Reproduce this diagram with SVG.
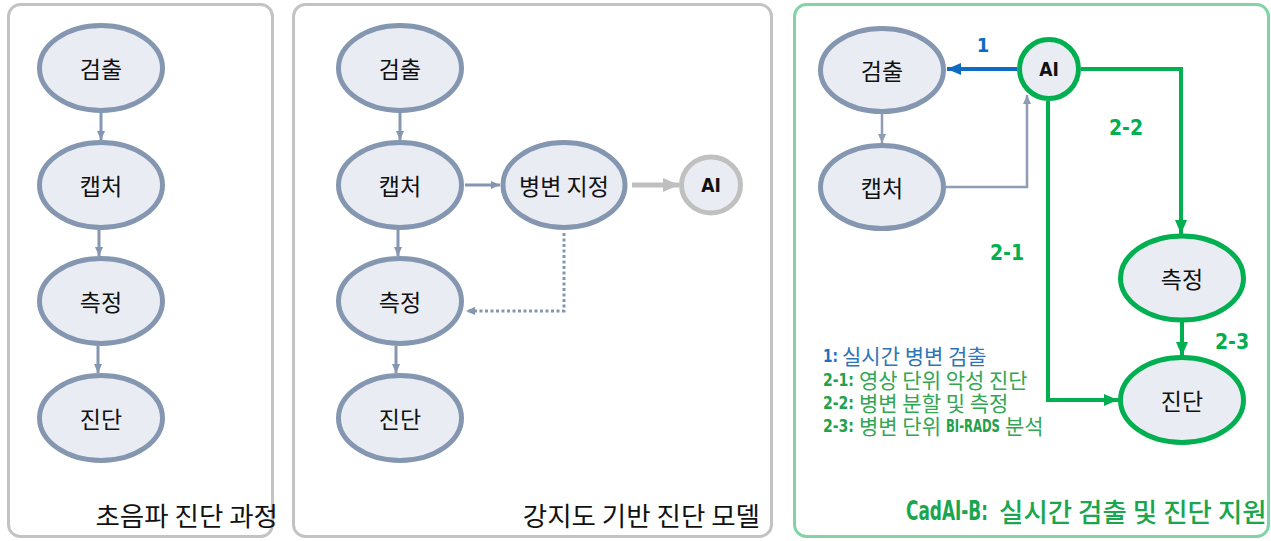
<svg xmlns="http://www.w3.org/2000/svg" width="1271" height="541" viewBox="0 0 1271 541">
<defs>
<style>
.panel{fill:#ffffff;stroke:#c3c3c3;stroke-width:3}
.panel3{fill:#ffffff;stroke:#84d3a5;stroke-width:3}
.el{fill:#e9edf3;stroke:#8496b0;stroke-width:5}
.elg{fill:#e9edf3;stroke:#00b050;stroke-width:5}
.lbl{font-family:"Noto Sans CJK KR","Noto Sans",sans-serif;font-size:23px;fill:#111;text-anchor:middle;dominant-baseline:central}
.cap{font-family:"Noto Sans CJK KR","Noto Sans",sans-serif;font-size:26.5px;fill:#111;text-anchor:end;dominant-baseline:central}
.cond{font-family:"DejaVu Sans Condensed","DejaVu Sans",sans-serif;font-stretch:condensed;font-weight:bold;dominant-baseline:central}
.ko{font-family:"Noto Sans CJK KR","Noto Sans",sans-serif;dominant-baseline:central}
.cs{fill:none;stroke:#8496b0;stroke-width:3}
</style>
<marker id="mS" viewBox="0 0 10 10" refX="10" refY="5" markerWidth="9" markerHeight="9" markerUnits="userSpaceOnUse" orient="auto"><path d="M0,0.5 L10,5 L0,9.5 z" fill="#8496b0"/></marker>
<marker id="mS2" viewBox="0 0 10 10" refX="10" refY="5" markerWidth="9" markerHeight="9" markerUnits="userSpaceOnUse" orient="auto"><path d="M0,0.5 L10,5 L0,9.5 z" fill="#8e9cb4"/></marker>
<marker id="mGrey" viewBox="0 0 16 14" refX="16" refY="7" markerWidth="16" markerHeight="14" markerUnits="userSpaceOnUse" orient="auto"><path d="M0,0 L16,7 L0,14 z" fill="#bfbfbf"/></marker>
<marker id="mBlue" viewBox="0 0 14 12" refX="14" refY="6" markerWidth="14" markerHeight="12" markerUnits="userSpaceOnUse" orient="auto"><path d="M0,0 L14,6 L0,12 z" fill="#0d6cc2"/></marker>
<marker id="mGreen" viewBox="0 0 14 12" refX="14" refY="6" markerWidth="14" markerHeight="12" markerUnits="userSpaceOnUse" orient="auto"><path d="M0,0 L14,6 L0,12 z" fill="#00b050"/></marker>
</defs>

<!-- panels -->
<g id="panel1">
<rect class="panel" x="8.5" y="4.5" width="264" height="532" rx="12"/>
<text class="cap" x="278" y="514">초음파 진단 과정</text>
</g>
<g id="panel2">
<rect class="panel" x="293.5" y="4.5" width="478" height="532" rx="12"/>
<text class="cap" x="760" y="514">강지도 기반 진단 모델</text>
</g>
<g id="panel3">
<rect class="panel3" x="794.5" y="4.5" width="474" height="532" rx="12"/>
<text class="cond" x="906" y="510" font-size="27" fill="#1aa64e" textLength="82" lengthAdjust="spacingAndGlyphs">CadAI-B:</text>
<text class="ko" x="999" y="510" font-size="26.5" font-weight="500" fill="#1aa64e">실시간 검출 및 진단 지원</text>
</g>

<!-- connectors -->
<g id="connectors">
<path class="cs" d="M101,113 V140" marker-end="url(#mS)"/>
<path class="cs" d="M99,230 V256" marker-end="url(#mS)"/>
<path class="cs" d="M98,346 V373" marker-end="url(#mS)"/>

<path class="cs" d="M400,113 V140" marker-end="url(#mS)"/>
<path class="cs" d="M398,230 V256" marker-end="url(#mS)"/>
<path class="cs" d="M396,346 V373" marker-end="url(#mS)"/>
<path class="cs" d="M465,185 H500" marker-end="url(#mS)"/>
<path fill="none" stroke="#bfbfbf" stroke-width="5" d="M632,185 H679" marker-end="url(#mGrey)"/>
<path class="cs" stroke-dasharray="3,2.5" d="M564,233 V311 H466" marker-end="url(#mS)"/>

<path fill="none" stroke="#8e9cb4" stroke-width="2.5" d="M882,114 V143" marker-end="url(#mS2)"/>
<path fill="none" stroke="#8e9cb4" stroke-width="2.5" d="M946,187 H1027 V95" marker-end="url(#mS2)"/>
<path fill="none" stroke="#0d6cc2" stroke-width="4" d="M1017,69 H947" marker-end="url(#mBlue)"/>
<path fill="none" stroke="#00b050" stroke-width="4" d="M1081,69 H1181 V234" marker-end="url(#mGreen)"/>
<path fill="none" stroke="#00b050" stroke-width="4" d="M1048,101 V400 H1118" marker-end="url(#mGreen)"/>
<path fill="none" stroke="#00b050" stroke-width="4" d="M1182,322 V356" marker-end="url(#mGreen)"/>
<text class="cond" x="983" y="45" font-size="20" fill="#0d6cc2" text-anchor="middle">1</text>
<text class="cond" x="1126" y="128" font-size="21" fill="#00b050" text-anchor="middle">2-2</text>
<text class="cond" x="1007" y="253" font-size="21" fill="#00b050" text-anchor="middle">2-1</text>
<text class="cond" x="1232" y="342" font-size="21" fill="#00b050" text-anchor="middle">2-3</text>
</g>

<!-- panel 1 nodes -->
<g id="p1-detect"><ellipse class="el" cx="101" cy="68" rx="61.5" ry="42.5"/><text class="lbl" x="101" y="68">검출</text></g>
<g id="p1-capture"><ellipse class="el" cx="101" cy="185" rx="61.5" ry="42.5"/><text class="lbl" x="101" y="185">캡처</text></g>
<g id="p1-measure"><ellipse class="el" cx="101" cy="301" rx="61.5" ry="42.5"/><text class="lbl" x="101" y="301">측정</text></g>
<g id="p1-diagnose"><ellipse class="el" cx="101" cy="418" rx="61.5" ry="42.5"/><text class="lbl" x="101" y="418">진단</text></g>

<!-- panel 2 nodes -->
<g id="p2-detect"><ellipse class="el" cx="400" cy="68" rx="61.5" ry="42.5"/><text class="lbl" x="400" y="68">검출</text></g>
<g id="p2-capture"><ellipse class="el" cx="400" cy="185" rx="61.5" ry="42.5"/><text class="lbl" x="400" y="185">캡처</text></g>
<g id="p2-measure"><ellipse class="el" cx="400" cy="301" rx="61.5" ry="42.5"/><text class="lbl" x="400" y="301">측정</text></g>
<g id="p2-diagnose"><ellipse class="el" cx="400" cy="418" rx="61.5" ry="42.5"/><text class="lbl" x="400" y="418">진단</text></g>
<g id="p2-lesion"><ellipse class="el" cx="564" cy="185" rx="61" ry="42.5"/><text class="lbl" x="564" y="185">병변 지정</text></g>
<g id="p2-ai"><ellipse fill="#e9edf3" stroke="#c0c0c0" stroke-width="5" cx="711" cy="185" rx="29.5" ry="28"/><text class="cond" x="711" y="185" font-size="19" fill="#111" text-anchor="middle">AI</text></g>

<!-- panel 3 nodes -->
<g id="p3-detect"><ellipse class="el" cx="882" cy="70" rx="61.5" ry="41.5"/><text class="lbl" x="882" y="70">검출</text></g>
<g id="p3-capture"><ellipse class="el" cx="882" cy="187" rx="61.5" ry="41.5"/><text class="lbl" x="882" y="187">캡처</text></g>
<g id="p3-ai"><circle class="elg" cx="1049" cy="69" r="29.5"/><text class="cond" x="1049" y="69" font-size="19" fill="#111" text-anchor="middle">AI</text></g>
<g id="p3-measure"><ellipse class="elg" cx="1182" cy="278" rx="61.5" ry="42"/><text class="lbl" x="1182" y="278">측정</text></g>
<g id="p3-diagnose"><ellipse class="elg" cx="1182" cy="400" rx="61.5" ry="42.5"/><text class="lbl" x="1182" y="400">진단</text></g>

<!-- legend -->
<g id="legend">
<text class="cond" x="823" y="355" font-size="18" fill="#1f6fbf" textLength="15" lengthAdjust="spacingAndGlyphs">1:</text>
<text class="ko" x="842" y="355" font-size="21" fill="#2e75b6">실시간 병변 검출</text>
<text class="cond" x="823" y="379" font-size="18" fill="#22a04a" textLength="31" lengthAdjust="spacingAndGlyphs">2-1:</text>
<text class="ko" x="859" y="379" font-size="21" fill="#33a653">영상 단위 악성 진단</text>
<text class="cond" x="823" y="402" font-size="18" fill="#22a04a" textLength="31" lengthAdjust="spacingAndGlyphs">2-2:</text>
<text class="ko" x="859" y="402" font-size="21" fill="#33a653">병변 분할 및 측정</text>
<text class="cond" x="823" y="425" font-size="18" fill="#22a04a" textLength="31" lengthAdjust="spacingAndGlyphs">2-3:</text>
<text class="ko" x="859" y="425" font-size="21" fill="#33a653">병변 단위</text>
<text class="cond" x="946" y="425" font-size="18" fill="#22a04a" textLength="54" lengthAdjust="spacingAndGlyphs">BI-RADS</text>
<text class="ko" x="1005" y="425" font-size="21" fill="#33a653">분석</text>
</g>
</svg>
